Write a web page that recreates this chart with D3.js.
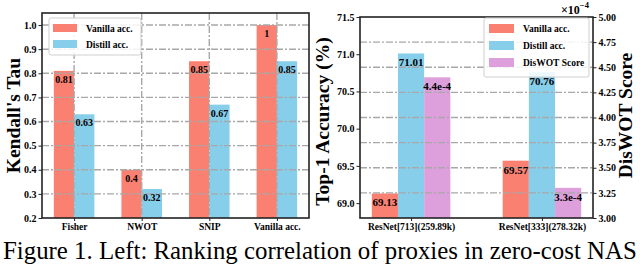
<!doctype html>
<html lang="en">
  <head>
    <meta charset="utf-8">
    <title>Kendall's Tau and DisWOT</title>
    <style>
      body{ margin:0; background:#fff; }
      svg text{ font-family:"Liberation Serif","DejaVu Serif",serif; }
      .tick text{ font-weight:bold; font-size:10px; }
      .tick line{ stroke:#222; }
      path.grid{ fill:none; stroke:#a8a8a8; stroke-width:1.4px; stroke-dasharray:7,2,2,2; }
    </style>
  </head>
  <body>
    <svg id="chart" width="640" height="267"></svg>
    <script src="https://d3js.org/d3.v7.min.js"></script>
    <script>

      //left chart data
      var proxies = ["Fisher", "NWOT", "SNIP", "Vanilla acc."];
      var tauVanilla = [0.81, 0.40, 0.85, 1.00];
      var tauDistill = [0.63, 0.32, 0.67, 0.85];
      var tauLabelsVanilla = ["0.81", "0.4", "0.85", "1"];
      var tauLabelsDistill = ["0.63", "0.32", "0.67", "0.85"];
      var tauTicks = [0.2, 0.3, 0.4, 0.5, 0.6, 0.7, 0.8, 0.9, 1.0];

      //right chart data
      var nets = ["ResNet[713](259.89k)", "ResNet[333](278.32k)"];
      var accVanilla = [69.13, 69.57];
      var accDistill = [71.01, 70.76];
      var diswot = [4.4, 3.3]; // x 1e-4
      var diswotLabels = ["4.4e-4", "3.3e-4"];
      var accTicks = [69.0, 69.5, 70.0, 70.5, 71.0, 71.5];
      var scoreTicks = [3.00, 3.25, 3.50, 3.75, 4.00, 4.25, 4.50, 4.75, 5.00];

      var legendKeys = ["Vanilla acc.", "Distill acc.", "DisWOT Score"];
      var colors = {"Vanilla acc.": "#fa8072", "Distill acc.": "#87ceeb", "DisWOT Score": "#dda0dd"};

      var svg = d3.select("#chart");

      // ---------- left chart ----------
      var L = {left: 42, right: 309, top: 13, bottom: 218};
      var xL = d3.scaleLinear().domain([-0.475, 3.475]).range([L.left, L.right]);
      var yL = d3.scaleLinear().domain([0.2, 1.05]).range([L.bottom, L.top]);
      var bwL = xL(0.3) - xL(0);

      var gl = svg.append("g");

      var groupsL = gl.selectAll("g.grp").data(proxies).enter().append("g").attr("class", "grp");
      groupsL.append("rect")
        .attr("x", function(d,i){ return xL(i) - bwL; })
        .attr("y", function(d,i){ return yL(tauVanilla[i]); })
        .attr("width", bwL)
        .attr("height", function(d,i){ return yL(0.2) - yL(tauVanilla[i]); })
        .attr("fill", colors["Vanilla acc."]);
      groupsL.append("rect")
        .attr("x", function(d,i){ return xL(i); })
        .attr("y", function(d,i){ return yL(tauDistill[i]); })
        .attr("width", bwL)
        .attr("height", function(d,i){ return yL(0.2) - yL(tauDistill[i]); })
        .attr("fill", colors["Distill acc."]);

      //grid above bars (as paths)
      var gridL = gl.append("g");
      gridL.selectAll("path.h").data(tauTicks.slice(1)).enter().append("path")
        .attr("class", "grid")
        .attr("d", function(t){ return "M" + L.left + "," + yL(t) + "H" + L.right; });
      gridL.selectAll("path.v").data(proxies).enter().append("path")
        .attr("class", "grid")
        .attr("d", function(p, i){ return "M" + xL(i) + "," + L.top + "V" + L.bottom; });

      //value labels on top of grid
      var labL = gl.append("g");
      labL.selectAll("text.v").data(proxies).enter().append("text")
        .attr("x", function(d,i){ return xL(i) - bwL/2; })
        .attr("y", function(d,i){ return yL(tauVanilla[i]) + 12; })
        .attr("text-anchor", "middle")
        .style("font-weight", "bold").style("font-size", "10px")
        .text(function(d,i){ return tauLabelsVanilla[i]; });
      labL.selectAll("text.d").data(proxies).enter().append("text")
        .attr("x", function(d,i){ return xL(i) + bwL/2; })
        .attr("y", function(d,i){ return yL(tauDistill[i]) + 12; })
        .attr("text-anchor", "middle")
        .style("font-weight", "bold").style("font-size", "10px")
        .text(function(d,i){ return tauLabelsDistill[i]; });

      //axes
      gl.append("g").attr("transform", "translate(" + L.left + ",0)")
        .call(d3.axisLeft(yL).tickValues(tauTicks).tickFormat(d3.format(".1f")).tickSize(3.5).tickPadding(2))
        .call(function(g){ g.select(".domain").remove(); });
      gl.append("g").attr("transform", "translate(0," + L.bottom + ")")
        .call(d3.axisBottom(xL).tickValues([0,1,2,3]).tickFormat(function(d){ return proxies[d]; }).tickSize(3).tickPadding(2))
        .call(function(g){ g.select(".domain").remove(); g.selectAll("text").style("font-size", "9.5px"); });

      gl.append("rect")
        .attr("x", L.left).attr("y", L.top)
        .attr("width", L.right - L.left).attr("height", L.bottom - L.top)
        .attr("fill", "none").attr("stroke", "#222").attr("stroke-width", 1.6);

      gl.append("text")
        .attr("transform", "translate(20," + ((L.top + L.bottom)/2) + ") rotate(-90)")
        .attr("text-anchor", "middle")
        .style("font-weight", "bold").style("font-size", "19.5px")
        .text("Kendall's Tau");

      //legend
      var legL = gl.append("g").attr("transform", "translate(49,18)");
      legL.append("rect").attr("width", 92).attr("height", 37).attr("rx", 2)
        .attr("fill", "#fff").attr("fill-opacity", 0.85).attr("stroke", "#cfcfcf");
      legendKeys.slice(0,2).forEach(function(k,i){
        legL.append("rect").attr("x", 4).attr("y", 6 + i*16).attr("width", 24).attr("height", 8)
          .attr("fill", colors[k]);
        legL.append("text").attr("x", 37).attr("y", 13.5 + i*16)
          .style("font-weight", "bold").style("font-size", "9.5px").text(k);
      });

      // ---------- right chart ----------
      var R = {left: 360, right: 593, top: 17, bottom: 218};
      var xR = d3.scaleLinear().domain([-0.39, 1.39]).range([R.left, R.right]);
      var yR = d3.scaleLinear().domain([68.8, 71.5]).range([R.bottom, R.top]);
      var yS = d3.scaleLinear().domain([3.0, 5.0]).range([R.bottom, R.top]);
      var bwR = xR(0.2) - xR(0);

      var gr = svg.append("g");
      var groupsR = gr.selectAll("g.grp").data(nets).enter().append("g").attr("class", "grp");
      groupsR.append("rect")
        .attr("x", function(d,i){ return xR(i) - 1.5*bwR; })
        .attr("y", function(d,i){ return yR(accVanilla[i]); })
        .attr("width", bwR)
        .attr("height", function(d,i){ return R.bottom - yR(accVanilla[i]); })
        .attr("fill", colors["Vanilla acc."]);
      groupsR.append("rect")
        .attr("x", function(d,i){ return xR(i) - 0.5*bwR; })
        .attr("y", function(d,i){ return yR(accDistill[i]); })
        .attr("width", bwR)
        .attr("height", function(d,i){ return R.bottom - yR(accDistill[i]); })
        .attr("fill", colors["Distill acc."]);
      groupsR.append("rect")
        .attr("x", function(d,i){ return xR(i) + 0.5*bwR; })
        .attr("y", function(d,i){ return yS(diswot[i]); })
        .attr("width", bwR)
        .attr("height", function(d,i){ return R.bottom - yS(diswot[i]); })
        .attr("fill", colors["DisWOT Score"]);

      var gridR = gr.append("g");
      gridR.selectAll("path.h").data(scoreTicks.slice(1, -1)).enter().append("path")
        .attr("class", "grid")
        .attr("d", function(t){ return "M" + R.left + "," + yS(t) + "H" + R.right; });

      var lblR = [
        {v: accVanilla, off: -1.0, y: yR},
        {v: accDistill, off: 0, y: yR},
        {v: diswot, off: 1.0, y: yS}
      ];
      var labR = gr.append("g");
      lblR.forEach(function(s, si){
        labR.selectAll("text.s" + si).data(nets).enter().append("text")
          .attr("class", "s" + si)
          .attr("x", function(d,i){ return xR(i) + s.off*bwR; })
          .attr("y", function(d,i){ return s.y(s.v[i]) + 13; })
          .attr("text-anchor", "middle")
          .style("font-weight", "bold").style("font-size", "11px")
          .text(function(d,i){ return si === 2 ? diswotLabels[i] : s.v[i].toFixed(2); });
      });

      gr.append("g").attr("transform", "translate(" + R.left + ",0)")
        .call(d3.axisLeft(yR).tickValues(accTicks).tickFormat(d3.format(".1f")).tickSize(3.5).tickPadding(2))
        .call(function(g){ g.select(".domain").remove(); });
      gr.append("g").attr("transform", "translate(" + R.right + ",0)")
        .call(d3.axisRight(yS).tickValues(scoreTicks).tickFormat(d3.format(".2f")).tickSize(3.5).tickPadding(2))
        .call(function(g){ g.select(".domain").remove(); });
      gr.append("g").attr("transform", "translate(0," + R.bottom + ")")
        .call(d3.axisBottom(xR).tickValues([0,1]).tickFormat(function(d){ return nets[d]; }).tickSize(3).tickPadding(2))
        .call(function(g){ g.select(".domain").remove(); g.selectAll("text").style("font-size", "9.5px"); });

      gr.append("rect")
        .attr("x", R.left).attr("y", R.top)
        .attr("width", R.right - R.left).attr("height", R.bottom - R.top)
        .attr("fill", "none").attr("stroke", "#222").attr("stroke-width", 1.6);

      var mult = gr.append("text").attr("x", 561).attr("y", 14)
        .style("font-weight", "bold").style("font-size", "12px");
      mult.append("tspan").text("\u00d710");
      mult.append("tspan").attr("dy", -6).style("font-size", "8.5px").text("\u22124");

      gr.append("text")
        .attr("transform", "translate(329," + ((R.top + R.bottom)/2 + 4) + ") rotate(-90)")
        .attr("text-anchor", "middle")
        .style("font-weight", "bold").style("font-size", "19.5px")
        .text("Top-1 Accuracy (%)");
      gr.append("text")
        .attr("transform", "translate(632," + ((R.top + R.bottom)/2 - 2) + ") rotate(-90)")
        .attr("text-anchor", "middle")
        .style("font-weight", "bold").style("font-size", "19.5px")
        .text("DisWOT Score");

      var legR = gr.append("g").attr("transform", "translate(484,18)");
      legR.append("rect").attr("width", 105).attr("height", 59).attr("rx", 2)
        .attr("fill", "#fff").attr("fill-opacity", 0.85).attr("stroke", "#cfcfcf");
      legendKeys.forEach(function(k,i){
        legR.append("rect").attr("x", 5).attr("y", 6 + i*17).attr("width", 25).attr("height", 9)
          .attr("fill", colors[k]);
        legR.append("text").attr("x", 39).attr("y", 14 + i*17)
          .style("font-weight", "bold").style("font-size", "9.5px").text(k);
      });

      // ---------- caption ----------
      var cap = svg.append("text").attr("x", 3).attr("y", 259)
        .style("font-size", "19px")
        .text("Figure 1. Left: Ranking correlation of proxies in zero-cost NAS");
      var w = cap.node().getComputedTextLength();
      cap.style("font-size", (19 * 634 / w) + "px");

    </script>
  </body>
</html>
